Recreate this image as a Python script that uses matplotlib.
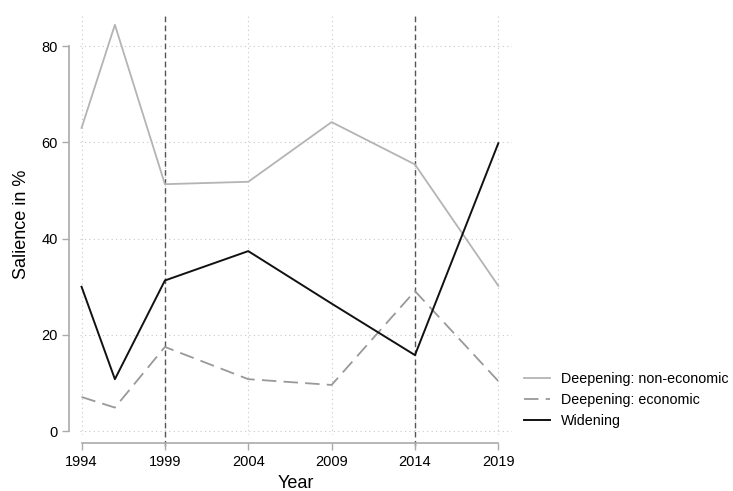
"""Salience of deepening vs widening over time (Stata-like line chart)."""

import matplotlib.pyplot as plt

plt.rcParams["font.family"] = ["Liberation Sans", "DejaVu Sans"]

years = [1994, 1996, 1999, 2004, 2009, 2014, 2019]
non_economic = [63.0, 84.4, 51.3, 51.8, 64.2, 55.4, 30.2]
economic = [7.1, 4.9, 17.5, 10.8, 9.6, 29.1, 10.4]
widening = [30.0, 10.8, 31.3, 37.4, 26.5, 15.8, 59.8]

x_ticks = [1994, 1999, 2004, 2009, 2014, 2019]
y_ticks = [0, 20, 40, 60, 80]
event_years = [1999, 2014]

fig = plt.figure(figsize=(7.33, 4.91), dpi=100)
ax = fig.add_axes([0.109, 0.114, 0.589, 0.857])

# dotted grid
for yt in y_ticks:
    ax.axhline(yt, color="#c8c8c8", lw=0.8, ls=(0, (1, 3)), zorder=0)
for xt in x_ticks:
    ax.axvline(xt, color="#c8c8c8", lw=0.8, ls=(0, (1, 3)), zorder=0)

for yr in event_years:
    ax.axvline(yr, ymin=-0.025, ymax=1, color="#555555", lw=1.0,
               ls=(0, (4, 2.5)), clip_on=False, zorder=1)

ax.plot(years, non_economic, color="#b4b4b4", lw=1.3,
        label="Deepening: non-economic", zorder=2)
ax.plot(years, economic, color="#999999", lw=1.3, ls=(0, (8, 4)),
        label="Deepening: economic", zorder=2)
ax.plot(years, widening, color="#111111", lw=1.4,
        label="Widening", zorder=3)

ax.set_xlim(1993.9, 2019.8)
ax.set_ylim(-0.8, 86.6)
ax.set_xticks(x_ticks)
ax.set_yticks(y_ticks)

for side in ["top", "right"]:
    ax.spines[side].set_visible(False)
ax.spines["left"].set_position(("outward", 7.5))
ax.spines["bottom"].set_position(("outward", 6))
ax.spines["left"].set_bounds(0, 80)
ax.spines["bottom"].set_bounds(1994, 2019)
for side in ["left", "bottom"]:
    ax.spines[side].set_color("#aaaaaa")
    ax.spines[side].set_linewidth(1.2)
ax.tick_params(colors="#aaaaaa", labelcolor="black", labelsize=10.5,
               length=5, width=1.0, direction="out")

ax.set_xlabel("Year", fontsize=13, labelpad=4)
ax.set_ylabel("Salience in %", fontsize=13, labelpad=8)

fig.legend(loc="center left", bbox_to_anchor=(0.715, 0.185), frameon=False,
           fontsize=10.3, handlelength=1.8, handletextpad=0.8,
           labelspacing=0.5, borderaxespad=0.0, borderpad=0.0)

fig.savefig("out.png", dpi=100)
